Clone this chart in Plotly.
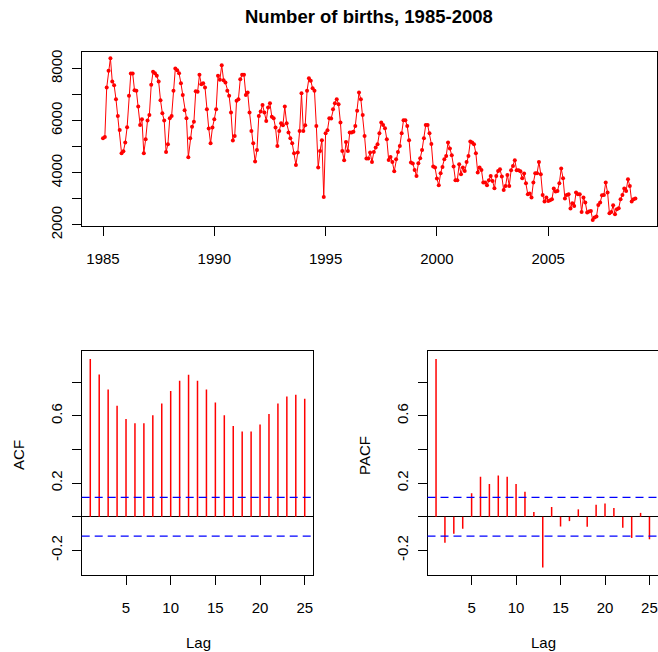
import math
import plotly.graph_objects as go

# ---------------- data ----------------
start_year = 1985
births = [
    5325, 5377, 7271, 7911, 8397, 7501, 7361, 6823, 6183, 5645, 4749, 4826,
    5159, 5748, 6951, 7809, 7809, 7169, 7143, 6541, 5837, 6055, 4749, 5287,
    6004, 6221, 7373, 7873, 7821, 7719, 7501, 6785, 6285, 6004, 4801, 5095,
    6093, 6183, 7143, 8001, 7937, 7821, 7437, 6989, 6400, 6093, 4596, 5325,
    5761, 5953, 7130, 7105, 7757, 7399, 7437, 7271, 6439, 5697, 5133, 5735,
    6055, 6439, 7719, 7565, 8129, 7553, 7463, 7143, 6951, 6311, 5236, 5415,
    6759, 6823, 7591, 7757, 7757, 6989, 7079, 6311, 5607, 5133, 4429, 4877,
    6183, 6349, 6600, 6311, 5991, 6503, 6669, 6145, 6093, 5735, 5031, 5607,
    5901, 5825, 6541, 5901, 5543, 5325, 5133, 4749, 4301, 4775, 5607, 7053,
    5607, 5825, 7143, 7629, 7527, 7245, 7143, 5799, 4199, 4839, 5249, 3073,
    5517, 5633, 6093, 6081, 6439, 6669, 6823, 6631, 5927, 4839, 4481, 5185,
    4839, 5543, 5543, 5569, 5799, 6375, 7079, 6823, 6221, 5415, 4545, 4545,
    4775, 4417, 4801, 4967, 5095, 5517, 5927, 5837, 5709, 5287, 4493, 4609,
    4417, 4058, 4519, 4801, 5031, 5517, 6017, 6017, 5799, 5249, 4391, 4353,
    4109, 3879, 4365, 4557, 4877, 5325, 5837, 5837, 5517, 5108, 4237, 4199,
    3777, 3521, 3981, 4225, 4519, 4647, 5159, 4929, 4673, 4237, 3713, 3713,
    4327, 3943, 4199, 4071, 4417, 4647, 5197, 5159, 5095, 4749, 4007, 4199,
    4109, 3623, 3623, 3521, 3713, 3879, 3687, 3405, 3879, 4071, 4135, 3853,
    3341, 3495, 3917, 3495, 4097, 4263, 4481, 4097, 4097, 4058, 3789, 3969,
    3597, 3175, 3201, 3047, 3623, 3981, 3981, 4417, 3943, 3149, 2893, 3047,
    2919, 2945, 2983, 3393, 3277, 3303, 3597, 4161, 3789, 3009, 3149, 3175,
    2625, 2829, 2727, 3239, 3175, 3175, 2497, 3047, 2855, 2471, 2509, 2535,
    2189, 2279, 2317, 2765, 2855, 3137, 3149, 3623, 3239, 2445, 2497, 2753,
    2407, 2599, 2637, 2983, 3149, 3393, 3303, 3751, 3495, 2893, 2983, 3009,
]
lags = list(range(1, 26))
acf_vals = [0.938, 0.846, 0.756, 0.660, 0.581, 0.556, 0.556, 0.603, 0.674, 0.748,
            0.809, 0.844, 0.809, 0.756, 0.679, 0.603, 0.540, 0.507, 0.507, 0.548,
            0.611, 0.674, 0.715, 0.726, 0.701]
pacf_vals = [0.938, -0.154, -0.101, -0.072, 0.140, 0.238, 0.195, 0.246, 0.238, 0.195,
             0.148, 0.028, -0.301, 0.058, -0.058, -0.026, 0.044, -0.060, 0.072, 0.079,
             0.052, -0.066, -0.126, 0.023, -0.134]

top_xticks = [1985, 1990, 1995, 2000, 2005]
top_yticks = [2000, 3000, 4000, 5000, 6000, 7000, 8000]
top_yticktext = ["2000", "", "4000", "", "6000", "", "8000"]
cf_yticks = [-0.2, 0.0, 0.2, 0.4, 0.6, 0.8]
cf_yticktext = ["-0.2", "", "0.2", "", "0.6", ""]
lag_ticks = [5, 10, 15, 20, 25]

title_text = "Number of births, 1985-2008"

# ---------------- derived ----------------
years = [start_year + i / 12 for i in range(len(births))]
ci = 1.96 / math.sqrt(len(births))


def spikes(xs, ys):
    sx, sy = [], []
    for x, y in zip(xs, ys):
        sx += [x, x, None]
        sy += [0, y, None]
    return sx, sy


def rrange(lo, hi):
    d = (hi - lo) * 0.04
    return [lo - d, hi + d]


W, H = 658, 668
FONT = "Liberation Sans, Arial, Helvetica, sans-serif"
RED = "#FF0000"

fig = go.Figure()
fig.add_trace(go.Scatter(x=years, y=births, mode="lines+markers",
                         line=dict(color=RED, width=1),
                         marker=dict(color=RED, size=4),
                         xaxis="x", yaxis="y", showlegend=False))
ax, ay = spikes(lags, acf_vals)
fig.add_trace(go.Scatter(x=ax, y=ay, mode="lines", line=dict(color=RED, width=1.5),
                         xaxis="x2", yaxis="y2", showlegend=False))
px_, py_ = spikes(lags, pacf_vals)
fig.add_trace(go.Scatter(x=px_, y=py_, mode="lines", line=dict(color=RED, width=1.5),
                         xaxis="x3", yaxis="y3", showlegend=False))

# confidence bands
for xa, ya in (("x2", "y2"), ("x3", "y3")):
    for v in (ci, -ci):
        fig.add_shape(type="line", xref=f"{xa} domain", yref=ya, x0=0, x1=1, y0=v, y1=v,
                      line=dict(color="#0000FF", width=1.3, dash="8px,5px"))

axis_common = dict(showgrid=False, ticks="outside", ticklen=9, tickwidth=1,
                   tickcolor="black", linecolor="black", linewidth=1, showline=True,
                   tickfont=dict(family=FONT, size=15, color="black"), zeroline=False)


def px(xp):
    return xp / W


def py(yp):
    return 1 - yp / H


lag_range = rrange(1, 25)
cf_range = [-0.346, 0.983]

fig.update_layout(
    width=W, height=H, margin=dict(l=0, r=0, t=0, b=0),
    paper_bgcolor="white", plot_bgcolor="white",
    xaxis=dict(axis_common, domain=[px(81.7), px(656.7)], anchor="y",
               range=rrange(years[0], years[-1]), tickvals=top_xticks, mirror=True,
               ticklabelstandoff=10),
    yaxis=dict(axis_common, domain=[py(229), py(51.7)], anchor="x",
               range=[1975, 8617], tickvals=top_yticks, ticktext=top_yticktext,
               tickangle=-90, mirror=True, ticklabelstandoff=4),
    xaxis2=dict(axis_common, domain=[px(81.7), px(313.3)], anchor="y2",
                range=lag_range, tickvals=lag_ticks, mirror=True, ticklabelstandoff=10),
    yaxis2=dict(axis_common, domain=[py(587), py(358)], anchor="x2",
                range=cf_range, tickvals=cf_yticks, ticktext=cf_yticktext,
                tickangle=-90, mirror=True, zeroline=True, zerolinecolor="black",
                zerolinewidth=1, ticklabelstandoff=4),
    xaxis3=dict(axis_common, domain=[px(427.5), 1.0], anchor="y3",
                range=lag_range, tickvals=lag_ticks, mirror=True, ticklabelstandoff=10),
    yaxis3=dict(axis_common, domain=[py(587), py(358)], anchor="x3",
                range=cf_range, tickvals=cf_yticks, ticktext=cf_yticktext,
                tickangle=-90, mirror=False, zeroline=True, zerolinecolor="black",
                zerolinewidth=1, ticklabelstandoff=4),
)

ann_font = dict(family=FONT, size=15, color="black")
fig.add_annotation(text=f"<b>{title_text}</b>", x=px(369), y=py(15), xref="paper", yref="paper",
                   showarrow=False, xanchor="center", yanchor="middle",
                   font=dict(family=FONT, size=18.5, color="black"))
fig.add_annotation(text="ACF", x=px(19), y=py(464), xref="paper", yref="paper",
                   showarrow=False, textangle=-90, xanchor="center", yanchor="middle", font=ann_font)
fig.add_annotation(text="PACF", x=px(365), y=py(464), xref="paper", yref="paper",
                   showarrow=False, textangle=-90, xanchor="center", yanchor="middle", font=ann_font)
fig.add_annotation(text="Lag", x=px(198), y=py(656), xref="paper", yref="paper",
                   showarrow=False, xanchor="center", yanchor="middle", font=ann_font)
fig.add_annotation(text="Lag", x=px(543), y=py(656), xref="paper", yref="paper",
                   showarrow=False, xanchor="center", yanchor="middle", font=ann_font)

fig.write_html("out.html")
